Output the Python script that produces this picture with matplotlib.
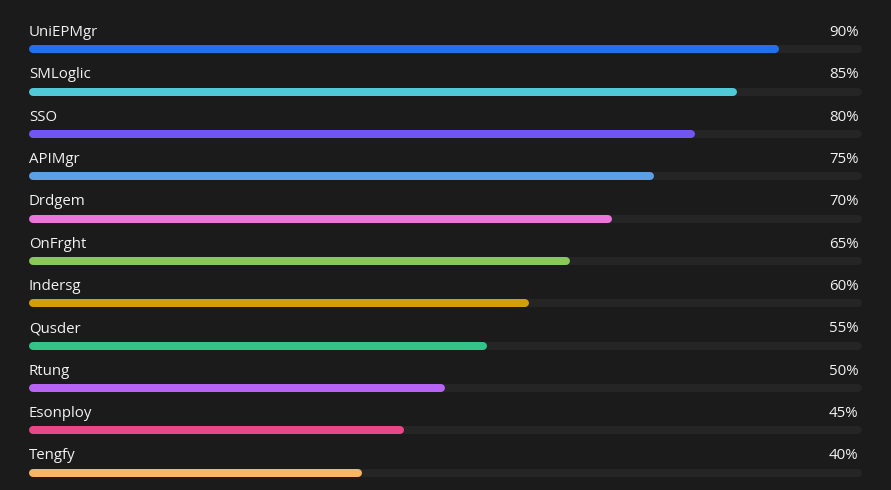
import matplotlib.pyplot as plt

# Data
names = ["UniEPMgr", "SMLoglic", "SSO", "APIMgr", "Drdgem", "OnFrght",
         "Indersg", "Qusder", "Rtung", "Esonploy", "Tengfy"]
values = [90, 85, 80, 75, 70, 65, 60, 55, 50, 45, 40]
colors = ["#2170f0", "#50cad8", "#7256f5", "#5b9fe6", "#ec74da", "#8bc85b",
          "#d19f07", "#33c48a", "#b763f3", "#ea4789", "#f8b664"]

plt.rcParams['font.family'] = ['Open Sans', 'DejaVu Sans']

BG = "#1b1b1b"
TRACK = "#252525"
W, H = 891, 490
x0, x1 = 29, 862          # track extent in pixels
y_first, step = 49.5, 42.3  # bar centre of first row, row spacing in pixels

fig = plt.figure(figsize=(W / 100, H / 100), dpi=100, facecolor=BG)
ax = fig.add_axes([x0 / W, 0, (x1 - x0) / W, 1])
ax.set_facecolor(BG)
ax.set_xlim(0, 100)
ax.set_ylim((H - y_first) / step, -y_first / step)
ax.axis("off")

lw_px = 8
lw = lw_px * 72 / 100
cap = (lw_px / 2) / ((x1 - x0) / 100)  # round cap radius in data units

for i, (name, val, col) in enumerate(zip(names, values, colors)):
    # background track
    ax.plot([cap, 100 - cap], [i, i], color=TRACK, lw=lw,
            solid_capstyle="round", zorder=1)
    # value bar
    ax.plot([cap, val - cap], [i, i], color=col, lw=lw,
            solid_capstyle="round", zorder=2)
    ax.text(0, i - 0.22, name, color="#f2f2f2", fontsize=10.8,
            ha="left", va="bottom")
    ax.text(99.6, i - 0.22, f"{val}%", color="#f2f2f2", fontsize=10.8,
            ha="right", va="bottom")

fig.savefig("out.png", dpi=100, facecolor=BG)
